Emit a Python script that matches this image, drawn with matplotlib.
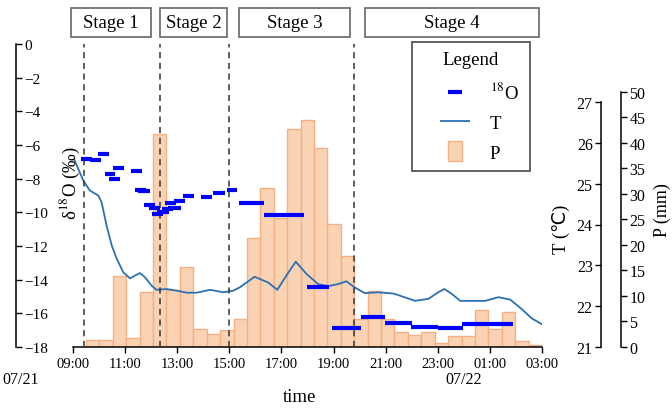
import numpy as np
import matplotlib
matplotlib.use("Agg")
import matplotlib.pyplot as plt
from matplotlib.lines import Line2D
from matplotlib.patches import Rectangle
import matplotlib.transforms as mtransforms

plt.rcParams['font.family'] = ['Liberation Serif', 'DejaVu Sans']
plt.rcParams['mathtext.fontset'] = 'stix'

# ---------------- data ----------------
hour_ticks = [9, 11, 13, 15, 17, 19, 21, 23, 25, 27]
hour_labels = ['09:00', '11:00', '13:00', '15:00', '17:00', '19:00',
               '21:00', '23:00', '01:00', '03:00']
date_labels = ['07/21', '07/22']
date_pos = [7.0, 24.0]

stage_names = ['Stage 1', 'Stage 2', 'Stage 3', 'Stage 4']
stage_bounds = [9.42, 12.34, 14.99, 19.79, 27.08]

# precipitation (mm), equal bins from 09:30 to 03:00
P_start, P_end = 9.5, 27.0
P_values = [1.4, 1.4, 13.9, 1.8, 10.7, 41.6, 11.2, 15.6, 3.5, 2.5, 3.4,
            5.5, 21.4, 31.2, 25.2, 42.7, 44.5, 39.0, 24.1, 17.9, 5.5, 10.9,
            5.5, 2.9, 2.4, 3.0, 0.7, 2.2, 2.2, 7.3, 3.5, 6.8, 1.1, 0.4]

# temperature (deg C)
T_time = [9.04, 9.40, 9.65, 9.97, 10.10, 10.29, 10.49, 10.68, 10.93, 11.19,
          11.38, 11.57, 11.76, 12.02, 12.21, 12.60, 12.98, 13.36, 13.75,
          14.26, 14.77, 15.15, 15.40, 15.97, 16.49, 16.84, 17.19, 17.55,
          17.96, 18.41, 18.79, 19.17, 19.49, 19.81, 20.20, 20.71, 21.28,
          21.49, 22.13, 22.64, 23.02, 23.25, 23.54, 23.86, 24.31, 24.82,
          25.33, 25.78, 26.22, 26.61, 26.99]
T_values = [25.60, 25.07, 24.83, 24.71, 24.54, 23.97, 23.48, 23.16, 22.83,
            22.68, 22.75, 22.81, 22.71, 22.50, 22.40, 22.42, 22.38, 22.33,
            22.33, 22.40, 22.34, 22.38, 22.46, 22.72, 22.58, 22.40, 22.75,
            23.09, 22.79, 22.54, 22.49, 22.54, 22.61, 22.46, 22.32, 22.34,
            22.31, 22.27, 22.13, 22.18, 22.34, 22.42, 22.30, 22.13, 22.13,
            22.13, 22.22, 22.16, 21.93, 21.70, 21.56]

# d18O sampling intervals
O18_start = [9.30, 9.65, 9.97, 10.23, 10.39, 10.55, 11.21, 11.39, 11.51,
             11.73, 11.91, 12.03, 12.24, 12.40, 12.53, 12.66, 12.89, 13.23,
             13.90, 14.39, 14.92, 15.37, 16.33, 17.98, 18.94, 20.07, 20.98,
             21.97, 23.00, 23.94]
O18_end = [9.72, 10.06, 10.39, 10.62, 10.80, 10.96, 11.64, 11.80, 11.96,
           12.15, 12.34, 12.47, 12.70, 12.83, 12.95, 13.13, 13.31, 13.64,
           14.32, 14.83, 15.28, 16.33, 17.87, 18.82, 20.07, 20.99, 22.02,
           23.00, 23.98, 25.88]
O18_values = [-6.83, -6.91, -6.56, -7.70, -8.02, -7.35, -7.57, -8.66, -8.73,
              -9.55, -9.76, -10.10, -9.96, -9.80, -9.45, -9.76, -9.31, -9.01,
              -9.11, -8.87, -8.69, -9.45, -10.16, -14.42, -16.89, -16.24,
              -16.58, -16.84, -16.90, -16.64]

# ---------------- layout ----------------
W, H = 672, 410
def fx(px):
    return px / W
def fy(py):
    return 1 - py / H

X0, X1, YB = 73, 542, 348
AXW = X1 - X0
bar_fill = '#FAD3B4'
bar_edge = '#F4B183'
t_color = '#2a71b3'
o_color = '#0000FF'
FS_BIG = 13.5
FS_TICK = 10.5

fig = plt.figure(figsize=(6.72, 4.10), dpi=100)

axP = fig.add_axes([fx(X0), fy(YB), fx(X1) - fx(X0), fy(92.5) - fy(YB)])
axT = fig.add_axes([fx(X0), fy(YB), fx(X1) - fx(X0), fy(103) - fy(YB)], sharex=axP)
axD = fig.add_axes([fx(X0), fy(YB), fx(X1) - fx(X0), fy(45) - fy(YB)], sharex=axP)

# ---- precipitation bars ----
edges = np.linspace(P_start, P_end, len(P_values) + 1)
axP.bar(edges[:-1], P_values, width=np.diff(edges), align='edge',
        color=bar_fill, edgecolor=bar_edge, linewidth=1.0)
axP.set_ylim(0, 50)
axP.set_xlim(9, 27)
for s in ['top', 'left']:
    axP.spines[s].set_visible(False)
axP.spines['right'].set_position(('axes', (621 - X0) / AXW))
axP.yaxis.tick_right()
axP.yaxis.set_label_position('right')
axP.set_yticks(range(0, 51, 5))
axP.tick_params(axis='y', direction='out', length=4, width=1, labelsize=11.5, pad=2)
axP.set_xticks(hour_ticks)
axP.set_xticklabels(hour_labels)
axP.tick_params(axis='x', direction='out', length=4, width=1, labelsize=FS_TICK, pad=3)
axP.set_ylabel('P (mm)', fontsize=13)
axP.yaxis.set_label_coords((662 - X0) / AXW, (YB - 210) / (YB - 92.5))
axP.yaxis.label.set_va('center')
axP.set_xlabel('time', fontsize=FS_BIG)
axP.xaxis.set_label_coords((300 - X0) / AXW, -(398 - YB) / (YB - 92.5))
axP.xaxis.label.set_va('center')
for sp in axP.spines.values():
    sp.set_linewidth(1.1)
trans = mtransforms.blended_transform_factory(axP.transData, axP.transAxes)
for lab, pos in zip(date_labels, date_pos):
    axP.text(pos, -(380 - YB) / (YB - 92.5), lab, transform=trans,
             ha='center', va='center', fontsize=11.5)

# ---- temperature ----
axT.plot(T_time, T_values, color=t_color, lw=1.3)
axT.set_ylim(21, 27)
axT.patch.set_visible(False)
for s in ['top', 'right', 'bottom']:
    axT.spines[s].set_visible(False)
axT.spines['left'].set_position(('axes', (601 - X0) / AXW))
axT.spines['left'].set_linewidth(1.1)
axT.yaxis.tick_left()
axT.set_yticks(range(21, 28))
axT.tick_params(axis='y', direction='out', length=4, width=1, labelsize=11.5, pad=2)
axT.tick_params(axis='x', bottom=False, labelbottom=False)
axT.set_ylabel('T (\u2103)', fontsize=FS_BIG)
axT.yaxis.set_label_coords((561 - X0) / AXW, (YB - 229) / (YB - 103))
axT.yaxis.label.set_va('center')

# ---- d18O ----
axD.hlines(O18_values, O18_start, O18_end, colors=o_color, lw=3.0,
           capstyle='butt', zorder=5)
axD.set_ylim(-18, 0)
axD.patch.set_visible(False)
for s in ['top', 'left', 'bottom']:
    axD.spines[s].set_visible(False)
axD.spines['right'].set_position(('axes', (16 - X0) / AXW))
axD.spines['right'].set_linewidth(1.1)
axD.yaxis.tick_right()
axD.yaxis.set_label_position('right')
axD.set_yticks(range(0, -19, -2))
axD.tick_params(axis='y', direction='out', length=4, width=1, labelsize=11, pad=2)
axD.tick_params(axis='x', bottom=False, labelbottom=False)
axD.set_ylabel('\u03b4$^{18}$O (\u2030)', fontsize=FS_BIG)
axD.yaxis.set_label_coords((70 - X0) / AXW, (YB - 183) / (YB - 45))
axD.yaxis.label.set_va('center')

for i, b in enumerate(stage_bounds):
    if i < len(stage_bounds) - 1:
        axD.axvline(b, color='#333333', lw=1.1, ls=(0, (4, 3)), zorder=4)
    else:
        axD.axvline(b, color='#888888', lw=1.6, ls=(0, (3, 2)), zorder=4)

# ---- legend ----
rect_marker = [(-0.35, -0.5), (0.35, -0.5), (0.35, 0.5), (-0.35, 0.5), (-0.35, -0.5)]
h1 = Line2D([], [], color=o_color, marker='_', markersize=9.5,
            markeredgewidth=3.0, linestyle='None')
h2 = Line2D([], [], color=t_color, marker='_', markersize=22,
            markeredgewidth=1.3, linestyle='None')
h3 = Line2D([], [], marker=rect_marker, markersize=14.4, markerfacecolor=bar_fill,
            markeredgecolor=bar_edge, markeredgewidth=1.0, linestyle='None')
leg = axD.legend([h1, h2, h3], ['$^{18}$O', 'T', 'P'], title='Legend',
                 loc='upper left',
                 bbox_to_anchor=(fx(412), fy(175), fx(530) - fx(412), fy(43) - fy(175)),
                 bbox_transform=fig.transFigure, mode='expand', borderaxespad=0,
                 fontsize=FS_BIG, title_fontsize=FS_BIG, handlelength=3.55,
                 handletextpad=0.1, borderpad=0.5, labelspacing=0.68,
                 fancybox=False, edgecolor='#555555', framealpha=1)
leg.get_frame().set_linewidth(1.3)

# ---- stage boxes ----
stage_boxes = [(70.8, 151.4), (160.4, 227.4), (239.2, 349.6), (364.7, 538.5)]
for name, (l, r) in zip(stage_names, stage_boxes):
    fig.patches.append(Rectangle((fx(l), fy(37.5)), fx(r) - fx(l), fy(9) - fy(37.5),
                                 transform=fig.transFigure, fill=False,
                                 edgecolor='#666666', lw=1.2))
    fig.text(fx((l + r) / 2), fy(23.5), name, ha='center', va='center',
             fontsize=FS_BIG)

fig.savefig('out.png', dpi=100)
